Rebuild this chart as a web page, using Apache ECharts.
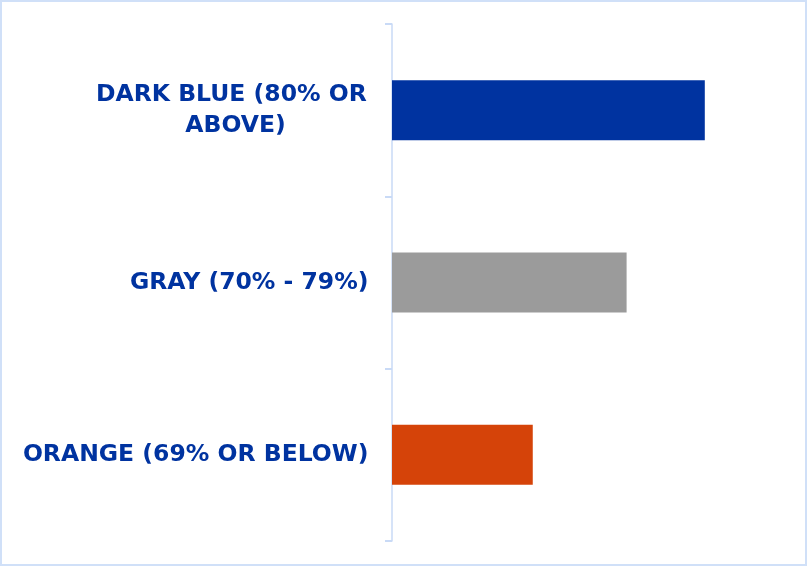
<!DOCTYPE html>
<html>
<head>
<meta charset="utf-8">
<script src="https://cdn.jsdelivr.net/npm/echarts@6/dist/echarts.min.js"></script>
<style>
html,body{margin:0;padding:0;background:#fff;}
#wrap{position:absolute;left:0;top:0;width:803px;height:562px;border:2px solid #d0e0f8;}
#chart{width:803px;height:562px;}
</style>
</head>
<body>
<div id="wrap"><div id="chart"></div></div>
<script>
const categories = ['ORANGE (69% OR BELOW)', 'GRAY (70% - 79%)', 'DARK BLUE (80% OR ABOVE)'];
const values = [9, 15, 20];
const colors = ['#d54309', '#9b9b9b', '#0033a0'];

const chart = echarts.init(document.getElementById('chart'));
chart.setOption({
  animation: false,
  grid: {left: 390, right: 22, top: 22, bottom: 23},
  xAxis: {
    type: 'value', min: 0, max: 25,
    show: false
  },
  yAxis: {
    type: 'category',
    offset: 2,
    data: categories.map(c => c.length > 22
      ? {value: c, textStyle: {align: 'center', padding: [0, 266, 0, 0]}}
      : c),
    axisLine: {lineStyle: {color: '#c9daf6', width: 1.5}},
    axisTick: {show: true, length: 7, lineStyle: {color: '#c9daf6', width: 2}},
    axisLabel: {
      margin: 21.5,
      color: '#0033a0',
      fontFamily: 'DejaVu Sans',
      fontWeight: 'bold',
      fontSize: 23.5,
      lineHeight: 31,
      width: 356,
      overflow: 'break',
      align: 'right'
    }
  },
  series: [{
    type: 'bar',
    barWidth: 60,
    data: values.map((v, i) => ({value: v, itemStyle: {color: colors[i]}}))
  }]
});
</script>
</body>
</html>
